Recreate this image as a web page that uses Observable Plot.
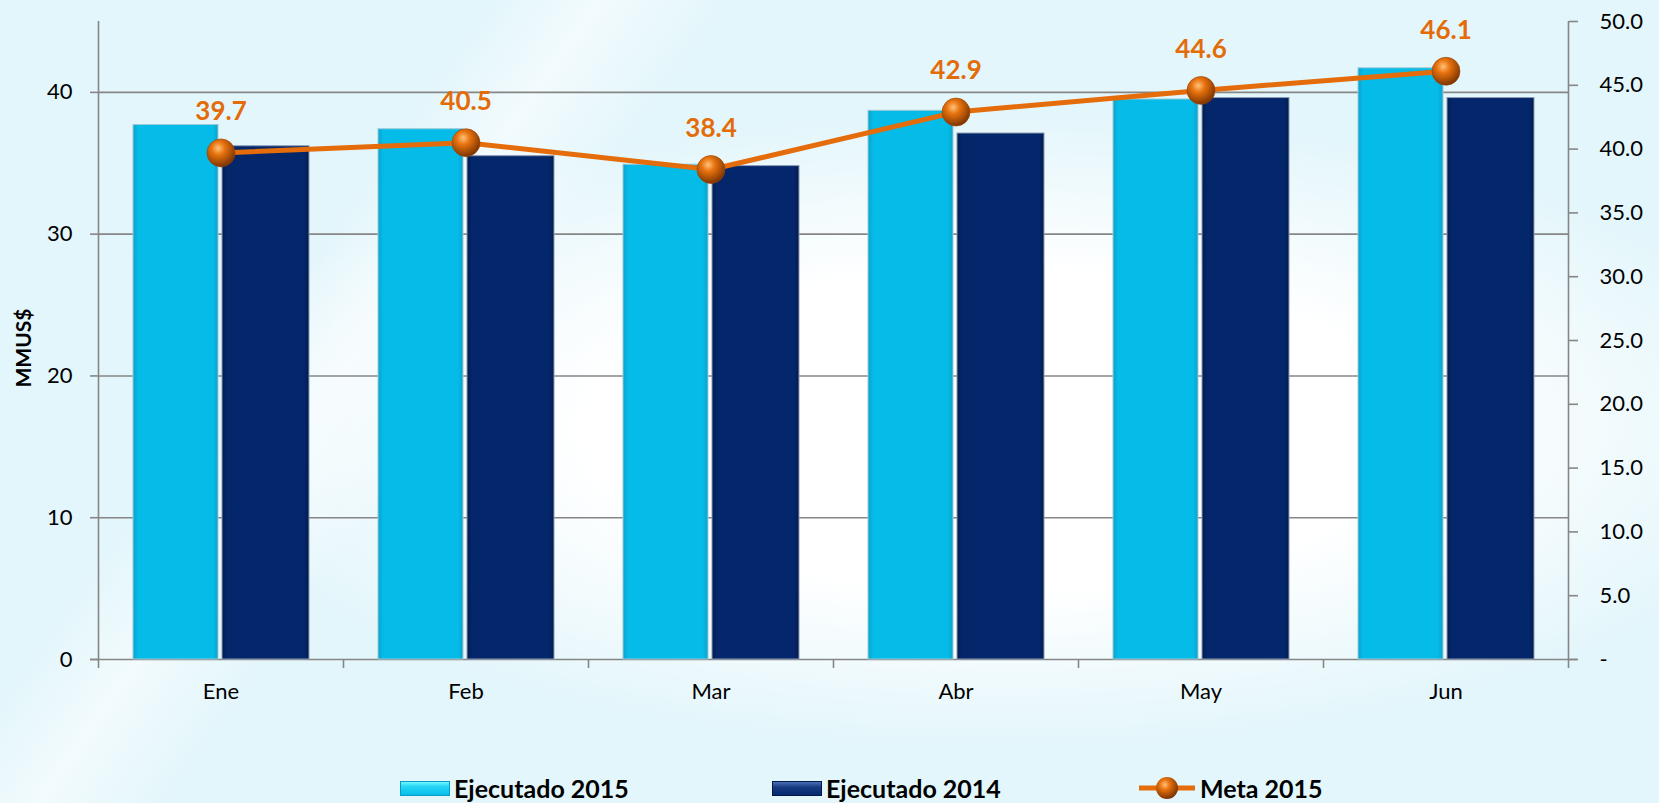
<!DOCTYPE html>
<html>
<head>
<meta charset="utf-8">
<script src="https://cdn.jsdelivr.net/npm/d3@7"></script>
<script src="https://cdn.jsdelivr.net/npm/@observablehq/plot@0.6"></script>
<style>
  html, body { margin: 0; padding: 0; }
  body {
    width: 1659px; height: 803px; overflow: hidden; position: relative;
    font-family: Lato, "Open Sans", sans-serif;
    background:
      radial-gradient(ellipse 820px 320px at 1000px 430px, rgba(255,255,255,1) 50%, rgba(255,255,255,0) 100%),
      linear-gradient(125deg, rgba(255,255,255,0) 22%, rgba(255,255,255,0.55) 27%, rgba(255,255,255,0) 33%),
      #e3f6fb;
  }
  #chart { position: absolute; left: 0; top: 0; }
  #ylabel {
    position: absolute; left: 22px; top: 348px;
    transform: translate(-50%, -50%) rotate(-90deg);
    font-weight: bold; font-size: 21px; color: #000; white-space: nowrap;
  }
  .leg { position: absolute; top: 774px; height: 28px; display: flex; align-items: center;
         font-weight: bold; font-size: 25px; color: #000; white-space: nowrap; }
  .sw { width: 50px; height: 15px; margin-right: 4px; box-sizing: border-box; }
  .sw15 { background: linear-gradient(#6ff6ff 0%, #27d6f6 35%, #07bde9 100%); border: 1px solid #0a9cc4; }
  .sw14 { background: linear-gradient(#4a6fb8 0%, #17397f 40%, #052a6e 100%); border: 1px solid #021a4a; }
</style>
</head>
<body>
<div id="chart"></div>
<div id="ylabel">MMUS$</div>
<div class="leg" style="left:400px"><div class="sw sw15"></div>Ejecutado 2015</div>
<div class="leg" style="left:772px"><div class="sw sw14"></div>Ejecutado 2014</div>
<div class="leg" style="left:1139px">
  <svg width="58" height="28" style="margin-right:3px">
    <defs>
      <radialGradient id="legSphere" cx="40%" cy="35%" r="65%">
        <stop offset="0%" stop-color="#ffc27a"/>
        <stop offset="35%" stop-color="#e8730f"/>
        <stop offset="100%" stop-color="#7a3300"/>
      </radialGradient>
    </defs>
    <line x1="0" y1="14" x2="56" y2="14" stroke="#e46c0a" stroke-width="5"/>
    <circle cx="28" cy="14" r="11" fill="url(#legSphere)"/>
  </svg>Meta 2015</div>
<script>
const months = ["Ene", "Feb", "Mar", "Abr", "May", "Jun"];
const ejecutado2015 = [37.7, 37.4, 34.9, 38.7, 39.5, 41.7];
const ejecutado2014 = [36.2, 35.5, 34.8, 37.1, 39.6, 39.6];
const meta2015 = [39.7, 40.5, 38.4, 42.9, 44.6, 46.1];
const leftTicks = [0, 10, 20, 30, 40];
const rightTicks = [0, 5, 10, 15, 20, 25, 30, 35, 40, 45, 50];

const leftMax = 45, rightMax = 50;
const k = leftMax / rightMax; // map right-axis values onto the left y scale

const rows = months.map((m, i) => ({
  month: m, e15: ejecutado2015[i], e14: ejecutado2014[i], meta: meta2015[i]
}));

const W = 1659, H = 730;
const half = (W - 98 - 91) / months.length / 2;
const grey = "#868686";

const plot = Plot.plot({
  width: W, height: H,
  marginLeft: 98, marginRight: 91, marginTop: 21, marginBottom: 71,
  style: {background: "transparent", fontSize: "22px", fontFamily: "Lato, 'Open Sans', sans-serif", color: "#000"},
  x: {domain: months, padding: 0, axis: null},
  y: {domain: [0, leftMax], axis: null},
  marks: [
    // gridlines
    Plot.ruleY(leftTicks.slice(1), {stroke: grey, strokeWidth: 1.6}),
    Plot.ruleY([0], {stroke: grey, strokeWidth: 1.6, insetLeft: -8, insetRight: -9}),
    // left and right axis lines
    Plot.ruleX([months[0]], {x: d => d, dx: -half, y1: 0, y2: leftMax, stroke: grey, strokeWidth: 1.6}),
    Plot.ruleX([months[months.length - 1]], {x: d => d, dx: half, y1: 0, y2: leftMax, stroke: grey, strokeWidth: 1.6}),
    // category boundary ticks
    Plot.ruleX(months, {x: d => d, dx: -half, y1: 0, y2: 0, insetBottom: -9, stroke: grey, strokeWidth: 1.6}),
    Plot.ruleX([months[months.length - 1]], {x: d => d, dx: half, y1: 0, y2: 0, insetBottom: -9, stroke: grey, strokeWidth: 1.6}),
    // axes
    Plot.axisY({anchor: "left", ticks: leftTicks, tickSize: 8, tickPadding: 18, stroke: grey, strokeWidth: 1.6, label: null}),
    Plot.axisY({anchor: "right", ticks: rightTicks.map(v => v * k), tickFormat: d => d === 0 ? "-" : (d / k).toFixed(1),
                tickSize: 9, tickPadding: 22, stroke: grey, strokeWidth: 1.6, label: null}),
    Plot.axisX({anchor: "bottom", tickSize: 0, tickPadding: 24, label: null}),
    // bars
    Plot.barY(rows, {x: "month", y: "e15", fill: "url(#g15)", stroke: "#9fc9d6", strokeWidth: 1, insetLeft: 35, insetRight: 125}),
    Plot.barY(rows, {x: "month", y: "e14", fill: "url(#g14)", stroke: "#8c9bb4", strokeWidth: 1, insetLeft: 124, insetRight: 34}),
    // bevels on bar tops
    Plot.tickY(rows, {x: "month", y: "e15", stroke: "url(#bev15)", strokeWidth: 7, dy: 4, insetLeft: 36, insetRight: 126}),
    Plot.tickY(rows, {x: "month", y: "e14", stroke: "url(#bev14)", strokeWidth: 7, dy: 4, insetLeft: 125, insetRight: 35}),
    // target line
    Plot.line(rows, {x: "month", y: d => d.meta * k, stroke: "#e46c0a", strokeWidth: 5}),
    Plot.dot(rows, {x: "month", y: d => d.meta * k, r: 14, fill: "url(#sphere)", stroke: "#9a4300", strokeWidth: 0.6}),
    Plot.text(rows, {x: "month", y: d => d.meta * k, text: d => d.meta.toFixed(1), dy: -41,
                     fill: "#e36c09", fontSize: 26, fontWeight: "bold"})
  ]
});

plot.insertAdjacentHTML("afterbegin", `
<defs>
  <linearGradient id="g15" x1="0" x2="1" y1="0" y2="0">
    <stop offset="0%" stop-color="#0aa2cb"/>
    <stop offset="6%" stop-color="#05bbe8"/>
    <stop offset="94%" stop-color="#05bbe8"/>
    <stop offset="100%" stop-color="#0aa2cb"/>
  </linearGradient>
  <linearGradient id="g14" x1="0" x2="1" y1="0" y2="0">
    <stop offset="0%" stop-color="#021b50"/>
    <stop offset="6%" stop-color="#04276b"/>
    <stop offset="94%" stop-color="#04276b"/>
    <stop offset="100%" stop-color="#021b50"/>
  </linearGradient>
  <linearGradient id="bev15" x1="0" x2="0" y1="0" y2="1">
    <stop offset="0%" stop-color="#4ff2ff"/>
    <stop offset="100%" stop-color="#22d4f4"/>
  </linearGradient>
  <linearGradient id="bev14" x1="0" x2="0" y1="0" y2="1">
    <stop offset="0%" stop-color="#3b5fa6"/>
    <stop offset="100%" stop-color="#17397e"/>
  </linearGradient>
  <radialGradient id="sphere" cx="40%" cy="33%" r="68%">
    <stop offset="0%" stop-color="#ffc27a"/>
    <stop offset="35%" stop-color="#e8730f"/>
    <stop offset="100%" stop-color="#7a3300"/>
  </radialGradient>
</defs>`);

document.getElementById("chart").appendChild(plot);
</script>
</body>
</html>
